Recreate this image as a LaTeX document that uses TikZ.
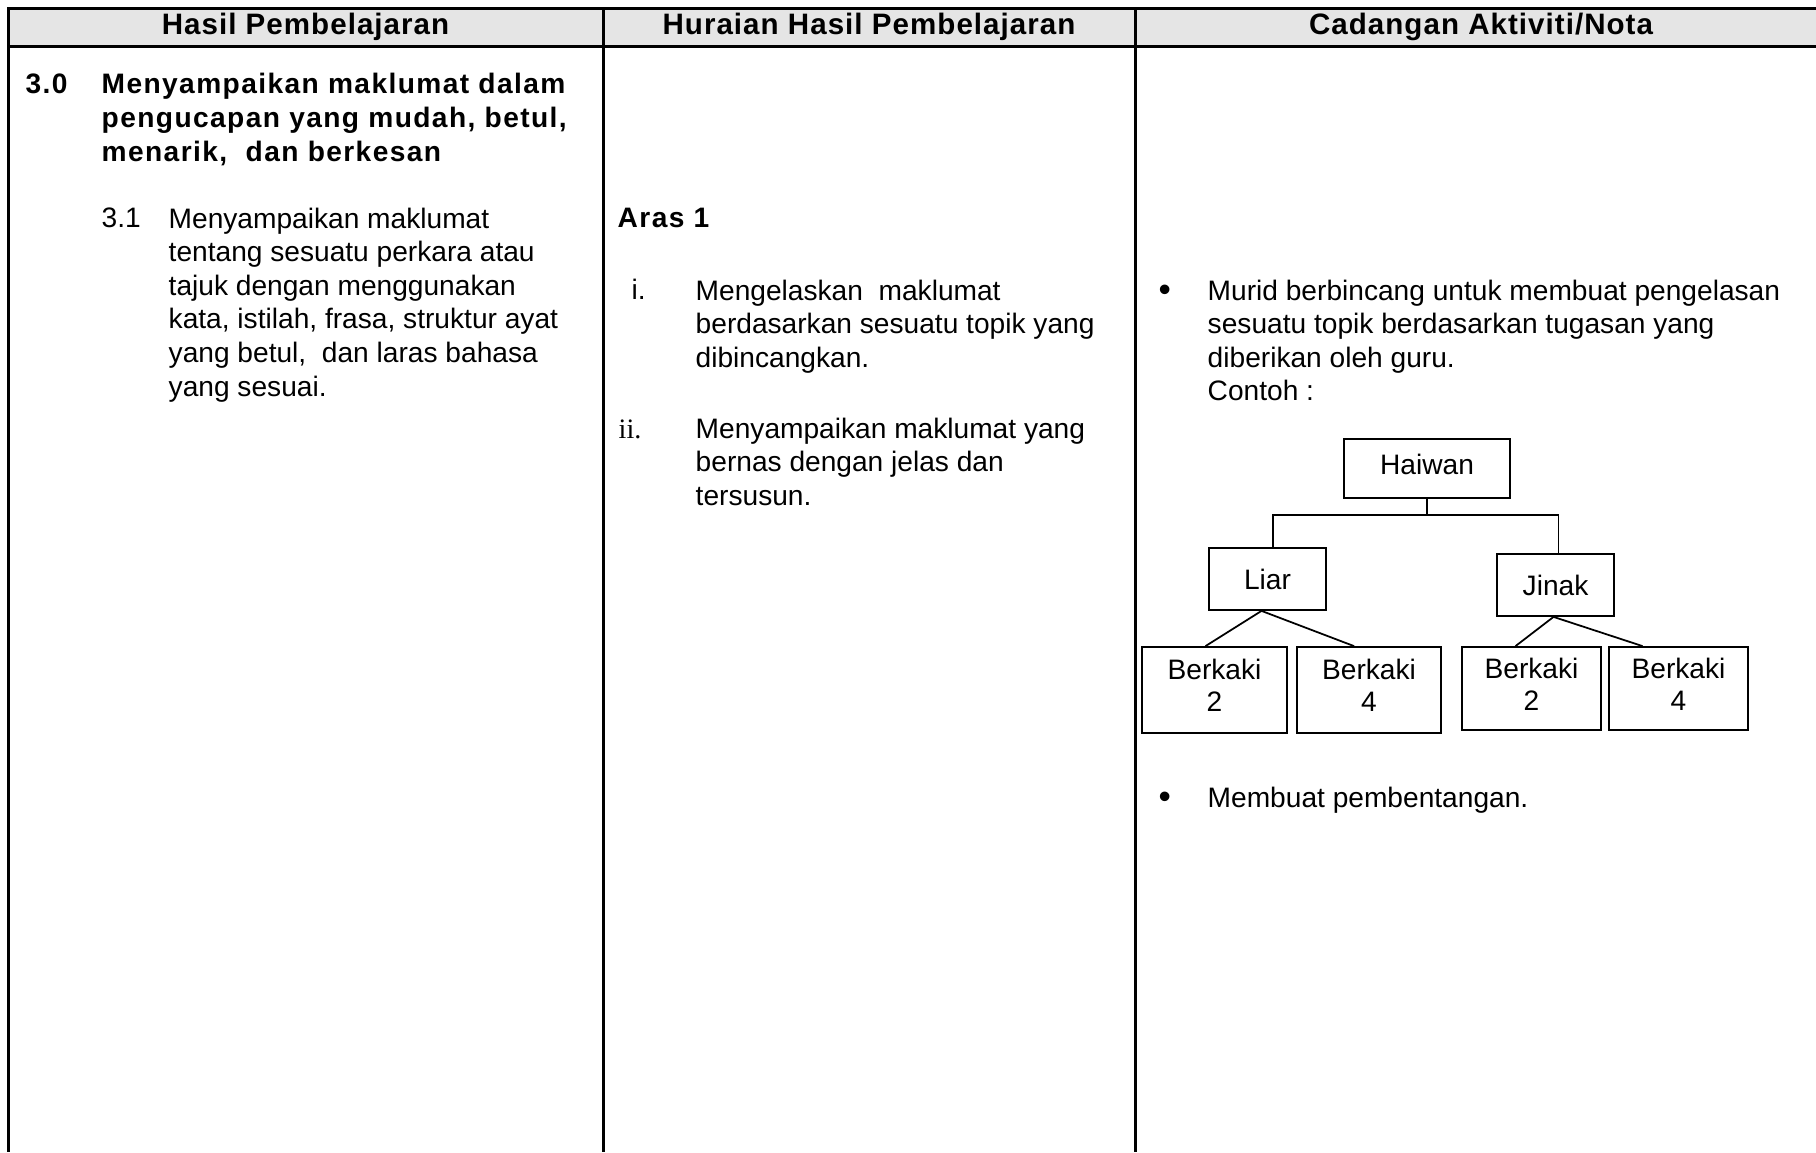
\documentclass[tikz,border=0pt]{standalone}
\usepackage{fontspec}
\setmainfont{Liberation Sans}
\newfontfamily\serifnum{Liberation Serif}
\newfontfamily\spaced[LetterSpace=5]{Liberation Sans}
\newfontfamily\headspaced[LetterSpace=3.5]{Liberation Sans}
\usetikzlibrary{positioning,calc}

\tikzset{
  rule/.style={line width=0.85pt},
  link/.style={line width=0.5pt},
  cell/.style={inner sep=0pt, anchor=base west, align=left,
    font=\fontsize{8}{9.56}\selectfont},
  boldcell/.style={cell, font=\spaced\bfseries\fontsize{8}{9.67}\selectfont},
  dotcell/.style={cell, font=\fontsize{10}{12}\selectfont},
  head/.style={inner sep=0pt, anchor=base,
    font=\headspaced\bfseries\fontsize{8.4}{10}\selectfont},
  box/.style={draw, line width=0.5pt, inner sep=0pt, align=center,
    font=\fontsize{8}{9.1}\selectfont},
  raised/.style={text depth=0.09cm},
}

\begin{document}
\begin{tikzpicture}[x=0.01cm,y=-0.01cm]
\useasboundingbox (0,0) rectangle (1816,1152);
% table frame
\fill [black!10] (8.5,8.5) rectangle (1816,46.5);
\draw [rule] (1816,8.5) -- (8.5,8.5) -- (8.5,1152);
\draw [rule] (8.5,46.5) -- (1816,46.5);
\draw [rule] (603,8.5) -- (603,1152);
\draw [rule] (1135,8.5) -- (1135,1152);
\node [head] (hd1) at (305.5,35) {Hasil Pembelajaran};
\node [head] (hd2) at (869,35) {Huraian Hasil Pembelajaran};
\node [head] (hd3) at (1481,35) {Cadangan Aktiviti/Nota};
% column 1 (multi-line nodes sit on their last baseline)
\node [boldcell] (num30) at (25,94) {3.0};
\node [boldcell] (title) at (101,162) {Menyampaikan maklumat dalam\\pengucapan yang mudah, betul,\\menarik,\ \ dan berkesan};
\node [cell] (num31) at (101,228) {3.1};
\node [cell] (item31) at (168,396.2) {Menyampaikan maklumat\\tentang sesuatu perkara atau\\tajuk dengan menggunakan\\kata, istilah, frasa, struktur ayat\\yang betul,\ \ dan laras bahasa\\yang sesuai.};
% column 2
\node [boldcell] (aras) at (617,228) {Aras 1};
\node [cell] (numi) at (631,300) {i.};
\node [cell] (itemi) at (695,367.3) {Mengelaskan\ \ maklumat\\berdasarkan sesuatu topik yang\\dibincangkan.};
\node [cell, font=\serifnum\fontsize{8}{9.56}\selectfont] (numii) at (618,438) {ii.};
\node [cell] (itemii) at (695,505.3) {Menyampaikan maklumat yang\\bernas dengan jelas dan\\tersusun.};
% column 3
\node [dotcell] (dot1) at (1158,301) {•};
\node [cell] (note1) at (1207,400.9) {Murid berbincang untuk membuat pengelasan\\sesuatu topik berdasarkan tugasan yang\\diberikan oleh guru.\\Contoh :};
\node [dotcell] (dot2) at (1158,808) {•};
\node [cell] (note2) at (1207,807) {Membuat pembentangan.};
% tree
\node [box, raised, minimum width=1.66cm, minimum height=0.59cm] (haiwan) at (1427,468.5) {Haiwan};
\node [box, minimum width=1.17cm, minimum height=0.62cm] (liar) at (1267.5,579) {Liar};
\node [box, minimum width=1.17cm, minimum height=0.62cm] (jinak) at (1555.5,585) {Jinak};
\node [box, raised, minimum width=1.45cm, minimum height=0.86cm] (liar2) at (1214.5,690) {Berkaki\\2};
\node [box, raised, minimum width=1.44cm, minimum height=0.86cm] (liar4) at (1369,690) {Berkaki\\4};
\node [box, raised, minimum width=1.39cm, minimum height=0.83cm] (jinak2) at (1531.5,688.5) {Berkaki\\2};
\node [box, raised, minimum width=1.39cm, minimum height=0.83cm] (jinak4) at (1678.5,688.5) {Berkaki\\4};
\coordinate (hub) at ($(haiwan.south)+(0,16)$);
\draw [link] (haiwan.south) -- (hub);
\draw [link] ($(liar.north)+(5.5,0)$) |- (hub) -| ($(jinak.north)+(3,0)$);
\draw [link] ($(liar.south)+(-6,0)$) -- ($(liar2.north)+(-9,0)$);
\draw [link] ($(liar.south)+(-6,0)$) -- ($(liar4.north)+(-15,0)$);
\draw [link] ($(jinak.south)+(-2,0)$) -- ($(jinak2.north)+(-16,0)$);
\draw [link] ($(jinak.south)+(-2,0)$) -- ($(jinak4.north)+(-36,0)$);
\end{tikzpicture}
\end{document}
